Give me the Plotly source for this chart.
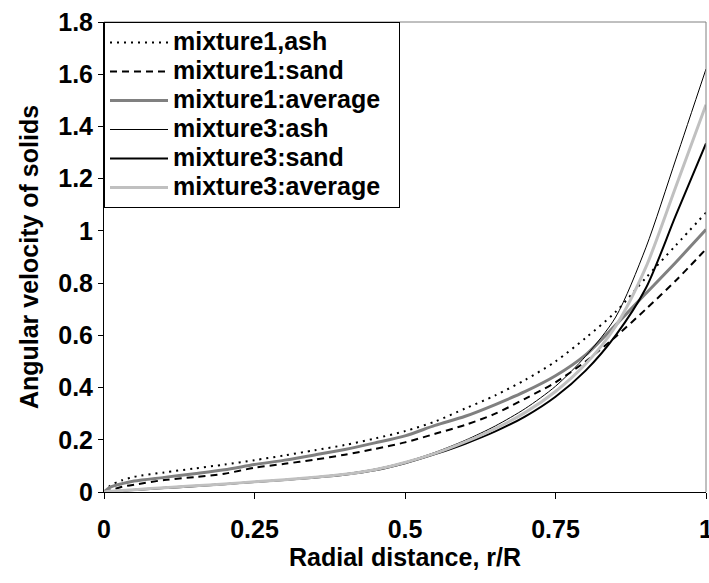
import plotly.graph_objects as go

r = [0, 0.01, 0.03, 0.05, 0.1, 0.15, 0.2, 0.25, 0.3, 0.35, 0.4, 0.45, 0.5,
     0.55, 0.6, 0.65, 0.7, 0.75, 0.8, 0.85, 0.9, 0.95, 1.0]

mix1_ash = [0, 0.024, 0.045, 0.058, 0.075, 0.09, 0.105, 0.122, 0.14, 0.16, 0.18, 0.205, 0.233,
            0.27, 0.32, 0.37, 0.43, 0.5, 0.59, 0.69, 0.82, 0.945, 1.07]
mix1_sand = [0, 0.006, 0.02, 0.028, 0.046, 0.057, 0.07, 0.093, 0.108, 0.124, 0.143, 0.165, 0.19,
             0.223, 0.257, 0.3, 0.358, 0.42, 0.5, 0.595, 0.7, 0.81, 0.93]
mix1_avg = [0, 0.018, 0.032, 0.042, 0.056, 0.07, 0.085, 0.105, 0.122, 0.142, 0.163, 0.188, 0.215,
            0.255, 0.29, 0.335, 0.385, 0.445, 0.525, 0.64, 0.76, 0.88, 1.005]
mix3_ash = [0, 0.003, 0.007, 0.01, 0.018, 0.025, 0.032, 0.04, 0.048, 0.058, 0.07, 0.088, 0.115,
            0.152, 0.198, 0.253, 0.32, 0.405, 0.52, 0.67, 0.935, 1.275, 1.62]
mix3_sand = [0, 0.002, 0.005, 0.008, 0.015, 0.022, 0.03, 0.038, 0.046, 0.055, 0.066, 0.083, 0.11,
             0.145, 0.185, 0.232, 0.29, 0.365, 0.465, 0.6, 0.78, 1.06, 1.335]
mix3_avg = [0, 0.0025, 0.006, 0.009, 0.0165, 0.0235, 0.031, 0.039, 0.047, 0.0565, 0.068, 0.0855, 0.113,
            0.148, 0.192, 0.243, 0.305, 0.385, 0.49, 0.635, 0.86, 1.17, 1.483]

x_ticks = [0, 0.25, 0.5, 0.75, 1]
x_labels = ["0", "0.25", "0.5", "0.75", "1"]
y_ticks = [0, 0.2, 0.4, 0.6, 0.8, 1.0, 1.2, 1.4, 1.6, 1.8]
y_labels = ["0", "0.2", "0.4", "0.6", "0.8", "1", "1.2", "1.4", "1.6", "1.8"]

series = [
    ("mixture1,ash", mix1_ash, dict(color="black", width=2, dash="2px,5px")),
    ("mixture1:sand", mix1_sand, dict(color="black", width=2, dash="7px,5px")),
    ("mixture1:average", mix1_avg, dict(color="#808080", width=3)),
    ("mixture3:ash", mix3_ash, dict(color="black", width=1)),
    ("mixture3:sand", mix3_sand, dict(color="black", width=2)),
    ("mixture3:average", mix3_avg, dict(color="#c0c0c0", width=3)),
]

fig = go.Figure()
for name, ys, line in series:
    line = dict(line, shape="spline", smoothing=0.8)
    label = f'<span style="font-size:25px">{name}&nbsp;&nbsp;</span>'
    fig.add_trace(go.Scatter(x=r, y=ys, mode="lines", line=line, name=label))

font_family = "Liberation Sans, Arial, sans-serif"
fig.update_layout(
    width=709, height=583,
    margin=dict(l=104, r=3, t=22, b=91, autoexpand=False),
    paper_bgcolor="white", plot_bgcolor="white",
    font=dict(family=font_family, size=25, color="black"),
    showlegend=True,
    legend=dict(x=0, y=1, xanchor="left", yanchor="top",
                bordercolor="black", borderwidth=1, bgcolor="white",
                font=dict(family=font_family, size=20, color="black", weight="bold"),
                itemwidth=58),
    xaxis=dict(range=[0, 1], tickvals=x_ticks, ticktext=x_labels,
               showgrid=False, zeroline=False, showline=True, linecolor="black", linewidth=1,
               ticks="outside", ticklen=6, tickcolor="black", ticklabelstandoff=9,
               ticklabeloverflow="allow",
               tickfont=dict(family=font_family, size=25, weight="bold"),
               title=dict(text="<b>Radial distance, r/R</b>", standoff=0,
                          font=dict(family=font_family, size=25))),
    yaxis=dict(range=[0, 1.8], tickvals=y_ticks, ticktext=y_labels,
               showgrid=False, zeroline=False, showline=True, linecolor="black", linewidth=1,
               ticks="outside", ticklen=5, tickcolor="black",
               tickfont=dict(family=font_family, size=25, weight="bold"),
               title=dict(text="<b>Angular velocity of solids</b>", standoff=12,
                          font=dict(family=font_family, size=25))),
    shapes=[
        dict(type="line", xref="paper", yref="paper", x0=0, x1=1, y0=1, y1=1,
             line=dict(color="#808080", width=1)),
        dict(type="line", xref="paper", yref="paper", x0=1, x1=1, y0=0, y1=1,
             line=dict(color="#808080", width=1)),
    ],
)

fig.write_html("out.html", config={"displayModeBar": False},
               post_script="document.body.style.margin='0px';")
